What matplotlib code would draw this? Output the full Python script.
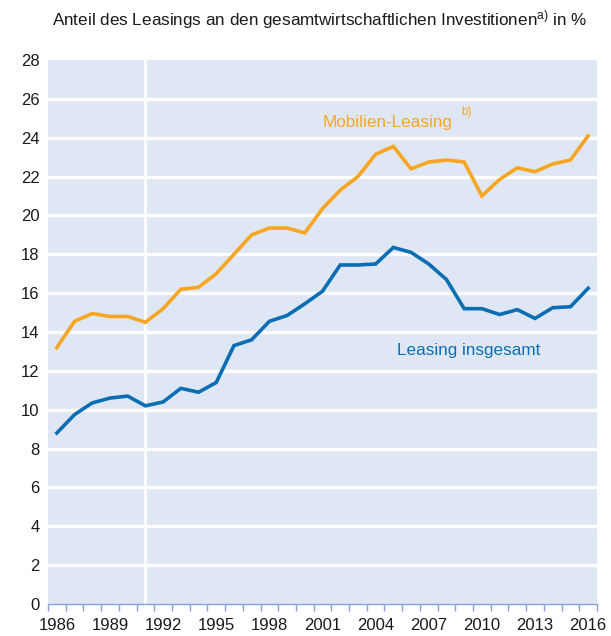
import matplotlib
matplotlib.use("Agg")
import matplotlib.pyplot as plt
import numpy as np

plt.rcParams['font.family'] = ['Liberation Sans', 'DejaVu Sans']
plt.rcParams['mathtext.fontset'] = 'custom'
plt.rcParams['mathtext.rm'] = 'Liberation Sans'
plt.rcParams['mathtext.it'] = 'Liberation Sans'

years = list(range(1986, 2017))
mobilien = [13.2, 14.55, 14.95, 14.8, 14.8, 14.5, 15.2, 16.2, 16.3, 17.0, 18.0, 19.0,
            19.35, 19.35, 19.1, 20.35, 21.3, 22.0, 23.15, 23.55, 22.4, 22.75, 22.85,
            22.75, 21.0, 21.85, 22.45, 22.25, 22.65, 22.85, 24.1]
insgesamt = [8.8, 9.75, 10.35, 10.6, 10.7, 10.2, 10.4, 11.1, 10.9, 11.4, 13.3, 13.6,
             14.55, 14.85, 15.45, 16.1, 17.45, 17.45, 17.5, 18.35, 18.1, 17.5, 16.7,
             15.2, 15.2, 14.9, 15.15, 14.7, 15.25, 15.3, 16.25]
xtick_years = list(range(1986, 2017, 3))
yticks = list(range(0, 29, 2))

orange = '#f6a623'
blue = '#0a6eb4'
bg = '#e0e7f4'

fig = plt.figure(figsize=(6.11, 6.36), dpi=100)
ax = fig.add_axes([48/611, 32/636, 549/611, 544/636])
ax.set_facecolor(bg)
ax.set_xlim(1985.5, 2016.5)
ax.set_ylim(0, 28)

for v in yticks[1:-1]:
    ax.axhline(v, color='white', lw=2.4, zorder=1)
ax.axvline(1991, color='white', lw=1.8, zorder=1)

ax.plot(years, mobilien, color=orange, lw=2.6, zorder=3, solid_joinstyle='miter')
ax.plot(years, insgesamt, color=blue, lw=2.6, zorder=3, solid_joinstyle='miter')

for s in ['top', 'right', 'left']:
    ax.spines[s].set_visible(False)
ax.spines['bottom'].set_color('#86a3d3')
ax.spines['bottom'].set_linewidth(1.0)

ax.set_yticks(yticks)
ax.set_yticklabels([str(v) for v in yticks], fontsize=12, color='#1a1a1a')
ax.tick_params(axis='y', length=0, pad=6)

ax.set_xticks(xtick_years)
ax.set_xticklabels([str(y) for y in xtick_years], fontsize=12, color='#1a1a1a')
ax.set_xticks(np.arange(1985.5, 2017, 1), minor=True)
ax.tick_params(axis='x', which='major', length=0, pad=10)
ax.tick_params(axis='x', which='minor', length=5, color='#86a3d3', width=1.0)

ax.text(2001.0, 24.8, 'Mobilien-Leasing', color=orange, fontsize=12.3, va='center', ha='left')
ax.text(2008.85, 25.3, 'b)', color=orange, fontsize=8.5, va='center', ha='left')
ax.text(2005.2, 13.05, 'Leasing insgesamt', color=blue, fontsize=12.3, va='center', ha='left')

fig.text(52/611, 1 - 20/636,
         r'Anteil des Leasings an den gesamtwirtschaftlichen Investitionen$^{\mathrm{a)}}$ in %',
         fontsize=12.3, color='#1a1a1a', va='center', ha='left')

fig.savefig('out.png', dpi=100, facecolor='white')
